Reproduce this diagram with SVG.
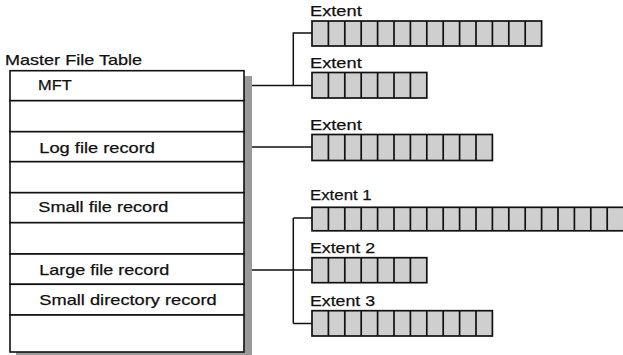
<svg xmlns="http://www.w3.org/2000/svg" width="623" height="355" viewBox="0 0 623 355">
<style>
text{font-family:"Liberation Sans",Arial,sans-serif;font-size:15px;fill:#111;stroke:#111;stroke-width:0.25}
.row{fill:#fff;stroke:#111;stroke-width:1.6}
.bar{fill:#cfcfcf;stroke:#111;stroke-width:1.7}
.div{stroke:#111;stroke-width:1.7;fill:none}
.con{stroke:#111;stroke-width:1.5;fill:none}
</style>
<rect width="623" height="355" fill="#fff"/>
<rect x="16" y="76" width="236" height="290" fill="#9a9a9a"/>
<g id="mft-table">
<text x="5" y="65" textLength="137" lengthAdjust="spacingAndGlyphs">Master File Table</text>
<g id="row-mft"><rect class="row" x="10" y="70.7" width="234" height="30"/><text x="38" y="89.5" textLength="33.7" lengthAdjust="spacingAndGlyphs">MFT</text></g>
<g id="row-2"><rect class="row" x="10" y="100.7" width="234" height="31"/></g>
<g id="row-log"><rect class="row" x="10" y="131.7" width="234" height="30"/><text x="39.3" y="152.5" textLength="115.7" lengthAdjust="spacingAndGlyphs">Log file record</text></g>
<g id="row-4"><rect class="row" x="10" y="161.7" width="234" height="31"/></g>
<g id="row-small"><rect class="row" x="10" y="192.7" width="234" height="30"/><text x="38.3" y="212" textLength="130" lengthAdjust="spacingAndGlyphs">Small file record</text></g>
<g id="row-6"><rect class="row" x="10" y="222.7" width="234" height="31.3"/></g>
<g id="row-large"><rect class="row" x="10" y="254" width="234" height="30.3"/><text x="39.3" y="275" textLength="130" lengthAdjust="spacingAndGlyphs">Large file record</text></g>
<g id="row-dir"><rect class="row" x="10" y="284.3" width="234" height="30.7"/><text x="39.3" y="305" textLength="177.4" lengthAdjust="spacingAndGlyphs">Small directory record</text></g>
<g id="row-9"><rect class="row" x="10" y="315" width="234" height="37"/></g>
</g>
<g id="connectors">
<path class="con" d="M252 85.5H312M293.3 85.5V33H312"/>
<path class="con" d="M252 147H312"/>
<path class="con" d="M252 270H312M293.3 218V323.5M293.3 218H312M293.3 323.5H312"/>
</g>
<g id="extent-mft-1">
<text x="310" y="16" textLength="51.7" lengthAdjust="spacingAndGlyphs">Extent</text>
<rect class="bar" x="312" y="21" width="229.6" height="25"/>
<path class="div" d="M328.4 21v25M344.8 21v25M361.2 21v25M377.6 21v25M394 21v25M410.4 21v25M426.8 21v25M443.2 21v25M459.6 21v25M476 21v25M492.4 21v25M508.8 21v25M525.2 21v25"/>
</g>
<g id="extent-mft-2">
<text x="310" y="68" textLength="51.7" lengthAdjust="spacingAndGlyphs">Extent</text>
<rect class="bar" x="312" y="72.5" width="114.8" height="25.5"/>
<path class="div" d="M328.4 72.5v25.5M344.8 72.5v25.5M361.2 72.5v25.5M377.6 72.5v25.5M394 72.5v25.5M410.4 72.5v25.5"/>
</g>
<g id="extent-log">
<text x="310" y="130" textLength="51.7" lengthAdjust="spacingAndGlyphs">Extent</text>
<rect class="bar" x="312" y="134.5" width="180.4" height="26"/>
<path class="div" d="M328.4 134.5v26M344.8 134.5v26M361.2 134.5v26M377.6 134.5v26M394 134.5v26M410.4 134.5v26M426.8 134.5v26M443.2 134.5v26M459.6 134.5v26M476 134.5v26"/>
</g>
<g id="extent-1">
<text x="310" y="200" textLength="61.7" lengthAdjust="spacingAndGlyphs">Extent 1</text>
<rect class="bar" x="312" y="207.3" width="330" height="23.5"/>
<path class="div" d="M328.4 207.3v23.5M344.8 207.3v23.5M361.2 207.3v23.5M377.6 207.3v23.5M394 207.3v23.5M410.4 207.3v23.5M426.8 207.3v23.5M443.2 207.3v23.5M459.6 207.3v23.5M476 207.3v23.5M492.4 207.3v23.5M508.8 207.3v23.5M525.2 207.3v23.5M541.6 207.3v23.5M558 207.3v23.5M574.4 207.3v23.5M590.8 207.3v23.5M607.2 207.3v23.5"/>
</g>
<g id="extent-2">
<text x="310" y="252.5" textLength="65" lengthAdjust="spacingAndGlyphs">Extent 2</text>
<rect class="bar" x="312" y="257.7" width="114.8" height="25"/>
<path class="div" d="M328.4 257.7v25M344.8 257.7v25M361.2 257.7v25M377.6 257.7v25M394 257.7v25M410.4 257.7v25"/>
</g>
<g id="extent-3">
<text x="310" y="306" textLength="65" lengthAdjust="spacingAndGlyphs">Extent 3</text>
<rect class="bar" x="312" y="310.7" width="180.4" height="25.3"/>
<path class="div" d="M328.4 310.7v25.3M344.8 310.7v25.3M361.2 310.7v25.3M377.6 310.7v25.3M394 310.7v25.3M410.4 310.7v25.3M426.8 310.7v25.3M443.2 310.7v25.3M459.6 310.7v25.3M476 310.7v25.3"/>
</g>
</svg>
